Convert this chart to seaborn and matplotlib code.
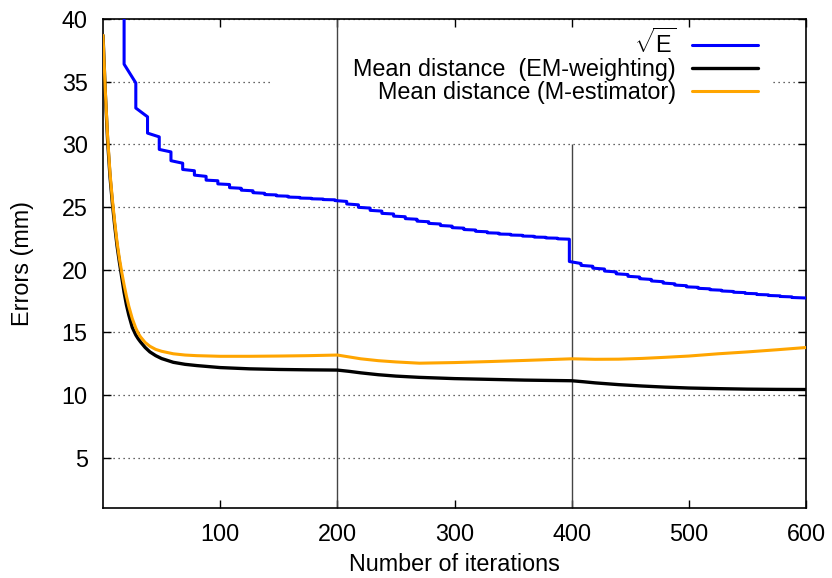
import pandas as pd
import matplotlib.pyplot as plt
import seaborn as sns
from matplotlib.patches import Rectangle

# sqrt(E) staircase: iteration of each drop, value just before and just after the drop
step_iter = [18, 28, 38, 48, 58, 68, 78, 88, 98, 108, 118, 128, 138, 148, 158, 168, 178, 188,
             198, 208, 218, 228, 238, 248, 258, 268, 278, 288, 298, 308, 318, 328, 338, 348,
             358, 368, 378, 388, 398, 408, 418, 428, 438, 448, 458, 468, 478, 488, 498, 508,
             518, 528, 538, 548, 558, 568, 578, 588, 600]
step_before = [48.0, 34.9, 32.2, 30.6, 29.4, 28.5, 27.9, 27.45, 27.1, 26.8, 26.5, 26.3, 26.1, 25.97,
               25.87, 25.77, 25.7, 25.64, 25.58, 25.45, 25.18, 24.92, 24.68, 24.45, 24.23, 24.03,
               23.83, 23.65, 23.48, 23.32, 23.17, 23.03, 22.92, 22.83, 22.75, 22.67, 22.59, 22.52,
               22.44, 20.5, 20.28, 20.06, 19.83, 19.62, 19.42, 19.23, 19.05, 18.88, 18.73, 18.6,
               18.48, 18.37, 18.27, 18.18, 18.09, 18.0, 17.92, 17.84, 17.75]
step_after = [36.4, 32.9, 30.9, 29.6, 28.7, 28.0, 27.55, 27.15, 26.85, 26.55, 26.35, 26.15, 26.0, 25.9,
              25.8, 25.72, 25.66, 25.6, 25.52, 25.25, 24.98, 24.74, 24.5, 24.28, 24.08, 23.88,
              23.7, 23.53, 23.36, 23.21, 23.07, 22.95, 22.85, 22.77, 22.69, 22.61, 22.54, 22.47,
              20.66, 20.35, 20.13, 19.9, 19.68, 19.48, 19.29, 19.11, 18.94, 18.78, 18.64, 18.52,
              18.41, 18.31, 18.21, 18.12, 18.03, 17.95, 17.87, 17.79, 17.75]

# mean distance curves
iters = [0, 2, 4, 6, 8, 10, 12, 14, 16, 18, 20, 22, 25, 28, 30, 32, 36, 40, 45, 50, 60, 70, 80,
         100, 125, 150, 175, 200, 210, 220, 235, 250, 270, 300, 330, 360, 400, 410, 420, 440,
         460, 480, 500, 525, 550, 575, 600]
em_weighting = [38.7, 34.0, 30.2, 27.4, 25.3, 23.5, 21.9, 20.6, 19.4, 18.2, 17.2, 16.4, 15.4, 14.8,
                14.5, 14.25, 13.8, 13.45, 13.15, 12.92, 12.62, 12.46, 12.36, 12.2, 12.1, 12.05, 12.02,
                12.0, 11.9, 11.78, 11.63, 11.52, 11.42, 11.32, 11.26, 11.2, 11.15, 11.07, 10.98,
                10.84, 10.73, 10.64, 10.57, 10.52, 10.48, 10.46, 10.45]
m_estimator = [38.7, 34.2, 30.5, 27.7, 25.6, 23.8, 22.2, 20.9, 19.8, 18.8, 17.9, 17.1, 16.1, 15.35,
               14.95, 14.65, 14.2, 13.9, 13.65, 13.5, 13.3, 13.2, 13.15, 13.1, 13.1, 13.12, 13.15,
               13.2, 13.05, 12.9, 12.75, 12.65, 12.55, 12.6, 12.68, 12.77, 12.9, 12.88, 12.86,
               12.87, 12.93, 13.02, 13.12, 13.3, 13.45, 13.62, 13.8]

x_ticks = [100, 200, 300, 400, 500, 600]
y_ticks = [5, 10, 15, 20, 25, 30, 35, 40]

# staircase points for the sqrt(E) line
blue_x, blue_y = [], []
for x, b, a in zip(step_iter, step_before, step_after):
    blue_x += [x, x]
    blue_y += [b, a]
df_blue = pd.DataFrame({'iter': blue_x, 'err': blue_y})
df_mean = pd.DataFrame({'iter': iters, 'em': em_weighting, 'm': m_estimator})

sns.set_style('ticks')
plt.rcParams['font.family'] = ['Liberation Sans', 'DejaVu Sans']
plt.rcParams['mathtext.fontset'] = 'custom'
plt.rcParams['mathtext.rm'] = 'Liberation Sans'
plt.rcParams['text.color'] = 'black'
plt.rcParams['axes.labelcolor'] = 'black'

fs = 16.8

fig, ax = plt.subplots(figsize=(8.32, 5.78), dpi=100)
fig.subplots_adjust(left=0.1238, right=0.9688, bottom=0.1211, top=0.9671)

sns.lineplot(data=df_blue, x='iter', y='err', sort=False, estimator=None, color='#0000ff',
             lw=2.2, label=r'$\sqrt{\mathrm{E}}$', ax=ax, zorder=3)
sns.lineplot(data=df_mean, x='iter', y='em', color='black', lw=2.4,
             label='Mean distance  (EM-weighting)', ax=ax, zorder=3)
sns.lineplot(data=df_mean, x='iter', y='m', color='#ffa500', lw=2.2,
             label='Mean distance (M-estimator)', ax=ax, zorder=3)

# white area behind the key, like gnuplot
ax.add_patch(Rectangle((143, 32.5), 427, 6.8, facecolor='white', edgecolor='none', zorder=1))

ax.axvline(200, color='#444444', lw=1, zorder=2)
ax.vlines(400, 1, 30, color='#444444', lw=1, zorder=2)

ax.set_xlim(0, 600)
ax.set_ylim(1, 40)
ax.set_xticks(x_ticks)
ax.set_yticks(y_ticks)
ax.set_axisbelow(True)
ax.yaxis.grid(True, linestyle=(0, (1, 3)), color='#333333', lw=0.9)
ax.xaxis.grid(False)
ax.tick_params(direction='in', top=True, right=True, length=6, width=1, labelsize=fs, pad=11,
               colors='black')
for s in ax.spines.values():
    s.set_color('black')
    s.set_linewidth(1.2)

ax.set_xlabel('Number of iterations', fontsize=fs, labelpad=5)
ax.set_ylabel('Errors (mm)', fontsize=fs, labelpad=20)

ax.legend(loc='upper right', bbox_to_anchor=(0.931, 0.98), markerfirst=False, frameon=False,
          fontsize=fs, handlelength=2.8, handletextpad=0.7, labelspacing=0.0, borderpad=0,
          borderaxespad=0)

plt.savefig('out.png', dpi=100)
